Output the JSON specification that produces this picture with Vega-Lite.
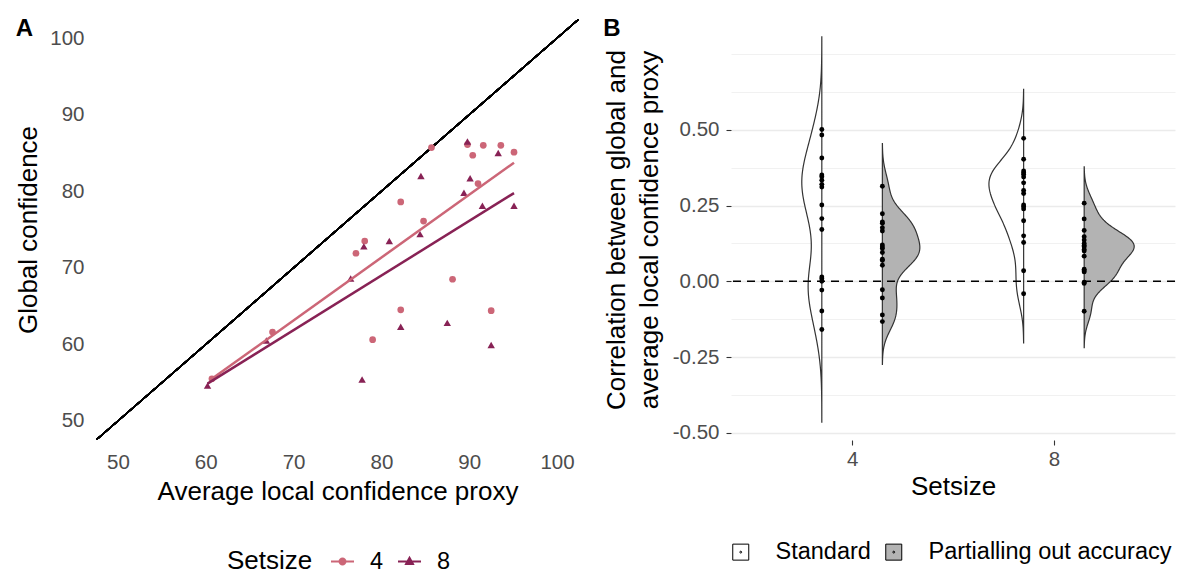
{
  "$schema": "https://vega.github.io/schema/vega-lite/v6.json",
  "padding": {"left": 15, "top": 17, "right": 5, "bottom": 5},
  "spacing": 24,
  "config": {
    "font": "Liberation Sans",
    "view": {"stroke": null},
    "axis": {"labelColor": "#4D4D4D", "labelFontSize": 20.5, "titleFontSize": 26, "titleFontWeight": "normal", "titleColor": "black", "domain": false, "grid": false, "tickColor": "#333333", "labelOverlap": false}
  },
  "datasets": {
    "scatter": [
      {"setsize": "4", "local": 85.7, "global": 85.7},
      {"setsize": "4", "local": 89.8, "global": 86.1},
      {"setsize": "4", "local": 91.6, "global": 86.0},
      {"setsize": "4", "local": 93.6, "global": 86.0},
      {"setsize": "4", "local": 95.1, "global": 85.1},
      {"setsize": "4", "local": 90.4, "global": 84.7},
      {"setsize": "4", "local": 91.0, "global": 81.0},
      {"setsize": "4", "local": 82.2, "global": 78.6},
      {"setsize": "4", "local": 84.8, "global": 76.1},
      {"setsize": "4", "local": 78.1, "global": 73.5},
      {"setsize": "4", "local": 77.1, "global": 71.9},
      {"setsize": "4", "local": 88.1, "global": 68.5},
      {"setsize": "4", "local": 82.2, "global": 64.5},
      {"setsize": "4", "local": 92.5, "global": 64.4},
      {"setsize": "4", "local": 79.0, "global": 60.6},
      {"setsize": "4", "local": 67.6, "global": 61.6},
      {"setsize": "4", "local": 60.7, "global": 55.5},
      {"setsize": "8", "local": 89.8, "global": 86.5},
      {"setsize": "8", "local": 93.3, "global": 85.0},
      {"setsize": "8", "local": 84.5, "global": 82.0},
      {"setsize": "8", "local": 90.1, "global": 81.7},
      {"setsize": "8", "local": 89.4, "global": 79.8},
      {"setsize": "8", "local": 91.5, "global": 78.1},
      {"setsize": "8", "local": 95.1, "global": 78.1},
      {"setsize": "8", "local": 84.4, "global": 74.4},
      {"setsize": "8", "local": 80.9, "global": 73.5},
      {"setsize": "8", "local": 78.0, "global": 72.8},
      {"setsize": "8", "local": 76.5, "global": 68.6},
      {"setsize": "8", "local": 66.9, "global": 60.5},
      {"setsize": "8", "local": 82.2, "global": 62.3},
      {"setsize": "8", "local": 87.5, "global": 62.8},
      {"setsize": "8", "local": 92.5, "global": 59.9},
      {"setsize": "8", "local": 77.8, "global": 55.4},
      {"setsize": "8", "local": 60.2, "global": 54.6}
    ],
    "corr": [
      {"setsize": "4", "type": "Standard", "r": 0.501},
      {"setsize": "4", "type": "Standard", "r": 0.483},
      {"setsize": "4", "type": "Standard", "r": 0.407},
      {"setsize": "4", "type": "Standard", "r": 0.351},
      {"setsize": "4", "type": "Standard", "r": 0.345},
      {"setsize": "4", "type": "Standard", "r": 0.334},
      {"setsize": "4", "type": "Standard", "r": 0.320},
      {"setsize": "4", "type": "Standard", "r": 0.311},
      {"setsize": "4", "type": "Standard", "r": 0.252},
      {"setsize": "4", "type": "Standard", "r": 0.207},
      {"setsize": "4", "type": "Standard", "r": 0.171},
      {"setsize": "4", "type": "Standard", "r": 0.014},
      {"setsize": "4", "type": "Standard", "r": 0.008},
      {"setsize": "4", "type": "Standard", "r": 0.000},
      {"setsize": "4", "type": "Standard", "r": -0.029},
      {"setsize": "4", "type": "Standard", "r": -0.098},
      {"setsize": "4", "type": "Standard", "r": -0.159},
      {"setsize": "4", "type": "Partialling out accuracy", "r": 0.314},
      {"setsize": "4", "type": "Partialling out accuracy", "r": 0.223},
      {"setsize": "4", "type": "Partialling out accuracy", "r": 0.196},
      {"setsize": "4", "type": "Partialling out accuracy", "r": 0.192},
      {"setsize": "4", "type": "Partialling out accuracy", "r": 0.177},
      {"setsize": "4", "type": "Partialling out accuracy", "r": 0.166},
      {"setsize": "4", "type": "Partialling out accuracy", "r": 0.120},
      {"setsize": "4", "type": "Partialling out accuracy", "r": 0.113},
      {"setsize": "4", "type": "Partialling out accuracy", "r": 0.108},
      {"setsize": "4", "type": "Partialling out accuracy", "r": 0.095},
      {"setsize": "4", "type": "Partialling out accuracy", "r": 0.073},
      {"setsize": "4", "type": "Partialling out accuracy", "r": 0.069},
      {"setsize": "4", "type": "Partialling out accuracy", "r": 0.053},
      {"setsize": "4", "type": "Partialling out accuracy", "r": -0.028},
      {"setsize": "4", "type": "Partialling out accuracy", "r": -0.055},
      {"setsize": "4", "type": "Partialling out accuracy", "r": -0.111},
      {"setsize": "4", "type": "Partialling out accuracy", "r": -0.133},
      {"setsize": "8", "type": "Standard", "r": 0.472},
      {"setsize": "8", "type": "Standard", "r": 0.403},
      {"setsize": "8", "type": "Standard", "r": 0.364},
      {"setsize": "8", "type": "Standard", "r": 0.358},
      {"setsize": "8", "type": "Standard", "r": 0.353},
      {"setsize": "8", "type": "Standard", "r": 0.344},
      {"setsize": "8", "type": "Standard", "r": 0.325},
      {"setsize": "8", "type": "Standard", "r": 0.300},
      {"setsize": "8", "type": "Standard", "r": 0.290},
      {"setsize": "8", "type": "Standard", "r": 0.252},
      {"setsize": "8", "type": "Standard", "r": 0.246},
      {"setsize": "8", "type": "Standard", "r": 0.239},
      {"setsize": "8", "type": "Standard", "r": 0.200},
      {"setsize": "8", "type": "Standard", "r": 0.150},
      {"setsize": "8", "type": "Standard", "r": 0.128},
      {"setsize": "8", "type": "Standard", "r": 0.035},
      {"setsize": "8", "type": "Standard", "r": -0.041},
      {"setsize": "8", "type": "Partialling out accuracy", "r": 0.258},
      {"setsize": "8", "type": "Partialling out accuracy", "r": 0.206},
      {"setsize": "8", "type": "Partialling out accuracy", "r": 0.168},
      {"setsize": "8", "type": "Partialling out accuracy", "r": 0.147},
      {"setsize": "8", "type": "Partialling out accuracy", "r": 0.136},
      {"setsize": "8", "type": "Partialling out accuracy", "r": 0.125},
      {"setsize": "8", "type": "Partialling out accuracy", "r": 0.118},
      {"setsize": "8", "type": "Partialling out accuracy", "r": 0.114},
      {"setsize": "8", "type": "Partialling out accuracy", "r": 0.105},
      {"setsize": "8", "type": "Partialling out accuracy", "r": 0.100},
      {"setsize": "8", "type": "Partialling out accuracy", "r": 0.083},
      {"setsize": "8", "type": "Partialling out accuracy", "r": 0.040},
      {"setsize": "8", "type": "Partialling out accuracy", "r": 0.035},
      {"setsize": "8", "type": "Partialling out accuracy", "r": 0.031},
      {"setsize": "8", "type": "Partialling out accuracy", "r": -0.003},
      {"setsize": "8", "type": "Partialling out accuracy", "r": -0.007},
      {"setsize": "8", "type": "Partialling out accuracy", "r": -0.099}
    ]
  },
  "hconcat": [
    {
      "width": 483,
      "height": 421,
      "title": {"text": "A", "anchor": "start", "frame": "bounds", "offset": 0, "dy": 22, "fontSize": 24, "fontWeight": "bold", "color": "black"},
      "data": {"name": "scatter"},
      "layer": [
        {
          "mark": {"type": "rule", "color": "black", "strokeWidth": 1.3, "clip": true},
          "encoding": {
            "x": {"datum": 40, "type": "quantitative", "scale": {"domain": [47.5, 102.5], "nice": false, "zero": false},
                  "axis": {"title": "Average local confidence proxy", "values": [50, 60, 70, 80, 90, 100], "ticks": false, "labelPadding": 12, "titlePadding": 6}},
            "y": {"datum": 40, "type": "quantitative", "scale": {"domain": [47.5, 102.5], "nice": false, "zero": false},
                  "axis": {"title": "Global confidence", "values": [50, 60, 70, 80, 90, 100], "ticks": false, "labelPadding": 12, "titlePadding": 8}},
            "x2": {"datum": 110},
            "y2": {"datum": 110}
          }
        },
        {
          "transform": [{"filter": "datum.setsize == '4'"}],
          "mark": {"type": "point", "shape": "circle", "filled": true, "opacity": 1, "size": 45},
          "encoding": {
            "x": {"field": "local", "type": "quantitative"},
            "y": {"field": "global", "type": "quantitative"},
            "color": {"field": "setsize", "type": "nominal", "scale": {"domain": ["4", "8"], "range": ["#CC6677", "#882255"]},
                      "legend": {"title": "Setsize", "orient": "none", "legendX": 131, "legendY": 530, "direction": "horizontal", "titleOrient": "left",
                                 "titleFontSize": 26, "titleFontWeight": "normal", "titleColor": "black",
                                 "labelFontSize": 23.5, "labelColor": "black", "symbolSize": 529, "symbolStrokeWidth": 2,
                                 "symbolType": {"expr": "datum.label == '8' ? 'M-1,0L1,0M0,-0.32L0.3,0.22L-0.3,0.22Z' : 'M-1,0L1,0M0.26,0A0.26,0.26,0,1,1,-0.26,0A0.26,0.26,0,1,1,0.26,0Z'"},
                                 "labelOffset": 15, "columnPadding": 10, "titlePadding": 17,
                                 "encode": {"symbols": {
                                   "fill": {"condition": {"test": "datum.label == '4'", "value": "#CC6677"}, "value": "#882255"},
                                   "stroke": {"condition": {"test": "datum.label == '4'", "value": "#CC6677"}, "value": "#882255"},
                                   "strokeWidth": {"value": 2},
                                   "size": {"value": 529},
                                   "opacity": {"value": 1}}}}}
          }
        },
        {
          "transform": [{"filter": "datum.setsize == '8'"}],
          "mark": {"type": "point", "shape": "triangle-up", "filled": true, "opacity": 1, "size": 55},
          "encoding": {
            "x": {"field": "local", "type": "quantitative"},
            "y": {"field": "global", "type": "quantitative"},
            "color": {"field": "setsize", "type": "nominal", "legend": null}
          }
        },
        {
          "transform": [{"regression": "global", "on": "local", "groupby": ["setsize"]}],
          "mark": {"type": "line", "strokeWidth": 2.5},
          "encoding": {
            "x": {"field": "local", "type": "quantitative"},
            "y": {"field": "global", "type": "quantitative"},
            "color": {"field": "setsize", "type": "nominal", "legend": null}
          }
        }
      ]
    },
    {
      "width": 444,
      "height": 421,
      "title": {"text": "B", "anchor": "start", "frame": "bounds", "offset": 0, "dy": 22, "fontSize": 24, "fontWeight": "bold", "color": "black"},
      "data": {"name": "corr"},
      "layer": [
        {
          "transform": [
            {"filter": "datum.setsize == '4' && datum.type == 'Standard'"},
            {"density": "r", "groupby": ["setsize", "type"], "bandwidth": 0.09, "extent": [-0.465, 0.807], "steps": 200, "as": ["r", "density"]},
            {"calculate": "(datum.setsize == '4' ? 1 : 2) + (datum.type == 'Standard' ? -0.15 : 0.15)", "as": "pos"},
            {"calculate": "datum.pos + (datum.type == 'Standard' ? -1 : 1) * datum.density * 0.052", "as": "xv"}
          ],
          "mark": {"type": "area", "orient": "horizontal", "stroke": "#333333", "strokeWidth": 1.2},
          "encoding": {
            "y": {"field": "r", "type": "quantitative", "scale": {"domain": [-0.524, 0.866], "nice": false, "zero": false},
                  "axis": {"title": ["Correlation between global and", "average local confidence proxy"], "titleLineHeight": 33,
                           "values": [-0.5, -0.375, -0.25, -0.125, 0, 0.125, 0.25, 0.375, 0.5, 0.625, 0.75],
                           "labelExpr": "(abs(datum.value*4 - round(datum.value*4)) > 0.01 || datum.value > 0.55) ? '' : (datum.value < 0 ? '-' : '') + format(abs(datum.value), '.2f')",
                           "grid": true, "gridColor": "#EBEBEB",
                           "gridWidth": {"condition": {"test": "abs(datum.value*4 - round(datum.value*4)) > 0.01 || datum.value > 0.55", "value": 0.7}, "value": 1.4},
                           "ticks": true, "tickSize": 5, "tickWidth": 1.1,
                           "tickOpacity": {"condition": {"test": "abs(datum.value*4 - round(datum.value*4)) > 0.01 || datum.value > 0.55", "value": 0}, "value": 1},
                           "labelPadding": 7, "titlePadding": 10}},
            "x": {"field": "xv", "type": "quantitative", "scale": {"domain": [0.4, 2.6], "nice": false, "zero": false}, "stack": null,
                  "axis": {"title": "Setsize", "values": [1, 2], "labelExpr": "datum.value == 1 ? '4' : '8'", "ticks": true, "tickSize": 5, "tickWidth": 1.1, "labelPadding": 4, "titlePadding": 4}},
            "x2": {"field": "pos"},
            "fill": {"field": "type", "type": "nominal", "scale": {"domain": ["Standard", "Partialling out accuracy"], "range": ["#FFFFFF", "#B3B3B3"]},
                     "legend": {"title": null, "orient": "none", "legendX": 633, "legendY": 521, "direction": "horizontal",
                                "symbolType": "M-1,-1H1V1H-1ZM0.12,0A0.12,0.12,0,1,1,-0.12,0A0.12,0.12,0,1,1,0.12,0Z",
                                "symbolSize": 256, "symbolStrokeColor": "black", "symbolStrokeWidth": 1, "symbolOpacity": 1,
                                "labelFontSize": 23.5, "labelColor": "black", "labelOffset": 23, "columnPadding": 11, "labelLimit": 0}}
          }
        },
        {
          "transform": [
            {"filter": "datum.setsize == '4' && datum.type == 'Partialling out accuracy'"},
            {"density": "r", "groupby": ["setsize", "type"], "bandwidth": 0.047, "extent": [-0.274, 0.455], "steps": 200, "as": ["r", "density"]},
            {"calculate": "(datum.setsize == '4' ? 1 : 2) + (datum.type == 'Standard' ? -0.15 : 0.15)", "as": "pos"},
            {"calculate": "datum.pos + (datum.type == 'Standard' ? -1 : 1) * datum.density * 0.052", "as": "xv"}
          ],
          "mark": {"type": "area", "orient": "horizontal", "stroke": "#333333", "strokeWidth": 1.2},
          "encoding": {
            "y": {"field": "r", "type": "quantitative"},
            "x": {"field": "xv", "type": "quantitative", "stack": null},
            "x2": {"field": "pos"},
            "fill": {"field": "type", "type": "nominal", "legend": null}
          }
        },
        {
          "transform": [
            {"filter": "datum.setsize == '8' && datum.type == 'Standard'"},
            {"density": "r", "groupby": ["setsize", "type"], "bandwidth": 0.054, "extent": [-0.203, 0.634], "steps": 200, "as": ["r", "density"]},
            {"calculate": "(datum.setsize == '4' ? 1 : 2) + (datum.type == 'Standard' ? -0.15 : 0.15)", "as": "pos"},
            {"calculate": "datum.pos + (datum.type == 'Standard' ? -1 : 1) * datum.density * 0.052", "as": "xv"}
          ],
          "mark": {"type": "area", "orient": "horizontal", "stroke": "#333333", "strokeWidth": 1.2},
          "encoding": {
            "y": {"field": "r", "type": "quantitative"},
            "x": {"field": "xv", "type": "quantitative", "stack": null},
            "x2": {"field": "pos"},
            "fill": {"field": "type", "type": "nominal", "legend": null}
          }
        },
        {
          "transform": [
            {"filter": "datum.setsize == '8' && datum.type == 'Partialling out accuracy'"},
            {"density": "r", "groupby": ["setsize", "type"], "bandwidth": 0.04, "extent": [-0.219, 0.378], "steps": 200, "as": ["r", "density"]},
            {"calculate": "(datum.setsize == '4' ? 1 : 2) + (datum.type == 'Standard' ? -0.15 : 0.15)", "as": "pos"},
            {"calculate": "datum.pos + (datum.type == 'Standard' ? -1 : 1) * datum.density * 0.052", "as": "xv"}
          ],
          "mark": {"type": "area", "orient": "horizontal", "stroke": "#333333", "strokeWidth": 1.2},
          "encoding": {
            "y": {"field": "r", "type": "quantitative"},
            "x": {"field": "xv", "type": "quantitative", "stack": null},
            "x2": {"field": "pos"},
            "fill": {"field": "type", "type": "nominal", "legend": null}
          }
        },
        {
          "data": {"values": [{}]},
          "mark": {"type": "rule", "color": "black", "strokeDash": [8, 6], "strokeWidth": 1.6},
          "encoding": {"y": {"datum": 0, "type": "quantitative"}}
        },
        {
          "transform": [
            {"calculate": "(datum.setsize == '4' ? 1 : 2) + (datum.type == 'Standard' ? -0.15 : 0.15)", "as": "pos"}
          ],
          "mark": {"type": "circle", "color": "black", "size": 24, "opacity": 1},
          "encoding": {
            "x": {"field": "pos", "type": "quantitative"},
            "y": {"field": "r", "type": "quantitative"}
          }
        }
      ]
    }
  ]
}
